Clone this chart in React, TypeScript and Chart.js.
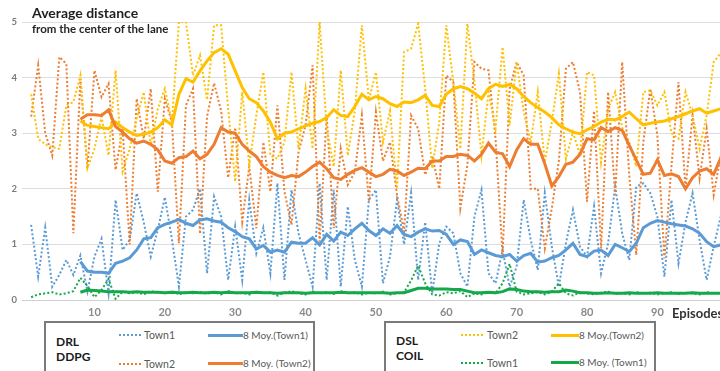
import React, { useEffect, useRef } from "react";
import { Chart, registerables } from "chart.js";

Chart.register(...registerables);

// ---------- DATA ----------
const episodes: number[] = Array.from({ length: 100 }, (_, i) => i + 1);
const maFirstEpisode = 8;
const xTickLabels = [10, 20, 30, 40, 50, 60, 70, 80, 90];
const yTickLabels = [0, 1, 2, 3, 4, 5];

// DRL DDPG - Town1 (dotted blue)
const ddpgTown1 = [
  1.35, 0.42, 1.3, 0.24, 0.45, 0.72, 0.45, 0.8, 0.15, 0.78,
  1.1, 0.12, 1.8, 0.9, 1.08, 1.92, 1.4, 0.78, 1.26, 1.85,
  1.1, 0.24, 1.5, 1.62, 2.0, 0.48, 1.86, 1.5, 0.36, 1.32,
  0.36, 1.8, 0.84, 1.3, 0.48, 2.1, 0.36, 1.98, 1.2, 0.72,
  0.24, 2.1, 0.36, 1.98, 0.24, 1.68, 0.72, 0.24, 1.8, 1.98,
  0.3, 0.78, 1.8, 1.0, 1.92, 0.36, 1.4, 0.12, 1.02, 1.32,
  1.2, 0.48, 0.24, 1.5, 1.98, 0.48, 0.3, 0.9, 0.24, 0.6,
  1.8, 1.08, 0.54, 1.92, 0.96, 0.24, 1.02, 1.62, 0.96, 0.78,
  1.68, 0.48, 1.02, 2.04, 1.2, 0.72, 2.04, 2.1, 1.92, 1.5,
  0.42, 1.8, 0.66, 1.4, 1.92, 1.08, 0.36, 0.96, 1.5, 1.2,
];

// DRL DDPG - Town2 (dotted orange)
const ddpgTown2 = [
  3.3, 4.22, 3.0, 2.6, 4.37, 4.25, 1.2, 3.98, 2.37, 4.13,
  3.65, 3.89, 2.34, 3.08, 1.0, 3.62, 2.9, 3.8, 1.95, 3.62,
  3.2, 1.02, 3.5, 3.8, 1.19, 3.3, 3.9, 3.4, 2.2, 3.1,
  1.41, 2.4, 1.29, 2.84, 1.95, 3.5, 1.95, 1.35, 2.66, 3.14,
  4.22, 1.05, 3.32, 1.29, 2.72, 2.07, 2.3, 3.32, 1.77, 3.38,
  2.5, 2.84, 1.89, 1.23, 3.32, 3.08, 2.25, 2.6, 2.0, 4.04,
  3.92, 1.65, 2.43, 4.28, 4.16, 4.13, 2.9, 0.81, 3.8, 4.28,
  4.04, 2.0, 2.0, 0.93, 1.65, 2.5, 4.16, 4.28, 3.74, 1.77,
  3.4, 0.93, 3.74, 1.89, 4.28, 2.25, 0.81, 2.84, 3.8, 2.96,
  0.75, 2.4, 3.92, 2.0, 3.32, 2.19, 3.08, 1.89, 2.6, 2.4,
];

// DSL COIL - Town2 (dotted yellow)
const coilTown2 = [
  3.7, 2.9, 2.8, 2.75, 2.72, 3.5, 3.56, 4.04, 2.37, 2.72,
  3.3, 2.6, 4.13, 2.31, 2.72, 3.26, 3.74, 2.78, 3.44, 3.8,
  3.2, 5.0, 5.0, 4.04, 4.4, 3.6, 4.94, 4.94, 3.44, 2.13,
  3.74, 2.43, 3.32, 4.1, 2.6, 2.54, 2.84, 4.1, 2.72, 3.8,
  2.72, 5.0, 3.1, 2.4, 4.13, 2.6, 3.4, 4.94, 3.6, 4.1,
  2.84, 3.4, 2.0, 4.46, 4.52, 4.97, 3.8, 2.37, 3.2, 4.94,
  3.92, 2.72, 4.97, 3.92, 2.6, 3.74, 3.08, 4.55, 3.14, 4.28,
  3.38, 2.84, 3.74, 2.48, 3.2, 4.07, 2.54, 3.02, 2.6, 4.1,
  4.04, 2.48, 3.44, 3.74, 3.1, 2.84, 2.4, 3.74, 3.77, 3.5,
  3.74, 3.0, 2.9, 3.74, 3.32, 2.72, 3.32, 4.28, 4.44, 4.0,
];

// DSL COIL - Town1 (dotted green)
const coilTown1 = [
  0.05, 0.1, 0.12, 0.14, 0.1, 0.12, 0.16, 0.4, 0.25, 0.05,
  0.18, 0.38, 0.02, 0.15, 0.12, 0.14, 0.1, 0.16, 0.13, 0.12,
  0.16, 0.1, 0.14, 0.12, 0.15, 0.11, 0.14, 0.1, 0.16, 0.12,
  0.13, 0.1, 0.15, 0.12, 0.14, 0.08, 0.13, 0.16, 0.12, 0.1,
  0.15, 0.12, 0.14, 0.11, 0.16, 0.12, 0.14, 0.1, 0.13, 0.12,
  0.15, 0.1, 0.12, 0.14, 0.35, 0.62, 0.3, 0.1, 0.08, 0.14,
  0.12, 0.16, 0.05, 0.12, 0.1, 0.14, 0.12, 0.3, 0.65, 0.15,
  0.1, 0.12, 0.14, 0.1, 0.15, 0.3, 0.12, 0.08, 0.14, 0.12,
  0.1, 0.13, 0.15, 0.11, 0.12, 0.1, 0.14, 0.12, 0.13, 0.1,
  0.12, 0.14, 0.11, 0.13, 0.12, 0.1, 0.14, 0.12, 0.13, 0.12,
];

// 8-period moving averages (episodes 8..99)
const maDdpgTown1 = [
  0.69, 0.52, 0.5, 0.5, 0.48, 0.66, 0.7, 0.76, 0.9, 1.1,
  1.12, 1.3, 1.36, 1.4, 1.45, 1.38, 1.34, 1.44, 1.46, 1.42,
  1.4, 1.3, 1.23, 1.14, 1.1, 0.92, 0.98, 0.86, 0.9, 0.86,
  1.04, 1.02, 1.02, 1.12, 0.99, 1.18, 1.06, 1.22, 1.16, 1.28,
  1.38, 1.25, 1.16, 1.28, 1.2, 1.34, 1.18, 1.14, 1.22, 1.28,
  1.24, 1.25, 1.18, 1.0, 1.08, 1.05, 0.82, 0.9, 0.85, 0.8,
  0.78, 0.82, 0.7, 0.8, 0.84, 0.68, 0.7, 0.76, 0.8, 0.9,
  1.02, 0.82, 0.78, 0.88, 0.9, 0.8, 1.0, 0.94, 0.87, 1.02,
  1.3, 1.38, 1.43, 1.4, 1.37, 1.35, 1.33, 1.28, 1.2, 1.05,
  0.96, 0.99,
];
const maDdpgTown2 = [
  3.25, 3.33, 3.33, 3.32, 3.42, 3.12, 3.02, 2.9, 2.82, 2.86,
  2.8, 2.7, 2.5, 2.46, 2.56, 2.58, 2.68, 2.54, 2.62, 2.8,
  3.1, 3.02, 3.0, 2.8, 2.68, 2.58, 2.4, 2.3, 2.24, 2.2,
  2.24, 2.22, 2.3, 2.4, 2.48, 2.36, 2.2, 2.17, 2.26, 2.33,
  2.38, 2.3, 2.22, 2.26, 2.35, 2.32, 2.24, 2.3, 2.37, 2.36,
  2.5, 2.5, 2.58, 2.58, 2.62, 2.6, 2.5, 2.62, 2.82, 2.66,
  2.63, 2.4, 2.7, 2.9, 2.8, 2.8, 2.45, 2.05, 2.22, 2.44,
  2.48, 2.62, 2.9, 2.88, 3.1, 3.03, 3.1, 3.05, 2.78, 2.52,
  2.26, 2.28, 2.52, 2.24, 2.27, 2.22, 2.0, 2.2, 2.32, 2.36,
  2.26, 2.55,
];
const maCoilTown2 = [
  3.22, 3.14, 3.12, 3.1, 3.08, 3.2, 3.1, 3.02, 2.96, 2.98,
  3.02, 3.1, 3.24, 3.15, 3.7, 3.98, 3.92, 4.12, 4.3, 4.45,
  4.52, 4.42, 4.12, 3.82, 3.62, 3.55, 3.4, 3.2, 2.9, 3.0,
  3.02, 3.08, 3.13, 3.18, 3.21, 3.28, 3.42, 3.32, 3.3, 3.48,
  3.7, 3.6, 3.66, 3.62, 3.53, 3.48, 3.56, 3.55, 3.6, 3.68,
  3.5, 3.48, 3.7, 3.8, 3.84, 3.8, 3.72, 3.62, 3.8, 3.88,
  3.84, 3.88, 3.8, 3.66, 3.55, 3.46, 3.38, 3.28, 3.15, 3.08,
  3.02, 2.99, 3.06, 3.12, 3.2, 3.25, 3.24, 3.3, 3.38, 3.26,
  3.15, 3.18, 3.2, 3.22, 3.26, 3.3, 3.35, 3.4, 3.44, 3.36,
  3.4, 3.44,
];
const maCoilTown1 = [
  0.14, 0.18, 0.17, 0.16, 0.15, 0.15, 0.15, 0.14, 0.15, 0.14,
  0.14, 0.14, 0.13, 0.14, 0.13, 0.13, 0.14, 0.13, 0.13, 0.14,
  0.13, 0.14, 0.13, 0.13, 0.13, 0.14, 0.13, 0.13, 0.12, 0.13,
  0.13, 0.13, 0.12, 0.13, 0.13, 0.13, 0.13, 0.14, 0.13, 0.13,
  0.13, 0.13, 0.13, 0.13, 0.12, 0.13, 0.13, 0.17, 0.21, 0.21,
  0.2, 0.2, 0.2, 0.19, 0.19, 0.16, 0.13, 0.13, 0.14, 0.13,
  0.15, 0.2, 0.19, 0.16, 0.15, 0.15, 0.14, 0.15, 0.15, 0.18,
  0.16, 0.13, 0.13, 0.12, 0.12, 0.13, 0.12, 0.12, 0.13, 0.12,
  0.12, 0.12, 0.13, 0.12, 0.12, 0.12, 0.12, 0.13, 0.12, 0.12,
  0.12, 0.12,
];

// ---------- STYLE ----------
const BLUE = "#5B9BD5";
const ORANGE = "#ED7D31";
const YELLOW = "#FFC000";
const GREEN = "#13A84A";
const FONT = "Lato, 'Open Sans', sans-serif";

const toPoints = (vals: number[], first: number) =>
  vals.map((v, i) => ({ x: first + i, y: v }));

const dotted = (label: string, vals: number[], color: string) => ({
  label,
  data: toPoints(vals, episodes[0]),
  borderColor: color,
  borderWidth: 2,
  borderDash: [2, 2.2],
  pointRadius: 0,
  tension: 0,
  fill: false,
});
const solid = (label: string, vals: number[], color: string) => ({
  label,
  data: toPoints(vals, maFirstEpisode),
  borderColor: color,
  borderWidth: 3,
  pointRadius: 0,
  tension: 0,
  fill: false,
});

function Txt(props: {
  x: number;
  cy: number;
  size?: number;
  bold?: boolean;
  color?: string;
  children: React.ReactNode;
}) {
  const { x, cy, size = 10, bold = false, color = "#595959", children } = props;
  return (
    <span
      style={{
        position: "absolute",
        left: x,
        top: cy - 8,
        lineHeight: "16px",
        fontSize: size,
        fontWeight: bold ? 700 : 400,
        color,
        whiteSpace: "nowrap",
        fontFamily: FONT,
        zIndex: 2,
      }}
    >
      {children}
    </span>
  );
}

function DotSample(props: { x: number; cy: number; color: string; w?: number }) {
  return (
    <div
      style={{
        position: "absolute",
        left: props.x,
        top: props.cy - 1,
        width: props.w ?? 22,
        height: 0,
        borderTop: `2px dotted ${props.color}`,
      }}
    />
  );
}
function LineSample(props: { x: number; cy: number; color: string; w: number }) {
  return (
    <div
      style={{
        position: "absolute",
        left: props.x,
        top: props.cy - 1.5,
        width: props.w,
        height: 0,
        borderTop: `3px solid ${props.color}`,
      }}
    />
  );
}

export default function App() {
  const ref = useRef<HTMLCanvasElement | null>(null);

  useEffect(() => {
    if (!ref.current) return;
    const chart = new Chart(ref.current, {
      type: "line",
      data: {
        datasets: [
          solid("8 Moy.(Town1) DDPG", maDdpgTown1, BLUE),
          solid("8 Moy.(Town2) DDPG", maDdpgTown2, ORANGE),
          solid("8 Moy.(Town2) COIL", maCoilTown2, YELLOW),
          solid("8 Moy.(Town1) COIL", maCoilTown1, GREEN),
          dotted("Town1 COIL", coilTown1, GREEN),
          dotted("Town2 COIL", coilTown2, YELLOW),
          dotted("Town2 DDPG", ddpgTown2, ORANGE),
          dotted("Town1 DDPG", ddpgTown1, BLUE),
        ] as any,
      },
      options: {
        animation: false,
        responsive: false,
        maintainAspectRatio: false,
        layout: { padding: { top: 22, left: 0, right: 0, bottom: 0 } },
        plugins: {
          legend: { display: false },
          tooltip: { enabled: false },
        },
        scales: {
          x: {
            type: "linear",
            min: -0.3,
            max: 98.9,
            grid: { display: false, drawTicks: false },
            border: { display: true, color: "#d0d0d0", width: 1 },
            ticks: {
              padding: 6,
              color: "#8a8a8a",
              font: { family: FONT, size: 11, weight: "bold" },
            },
            afterBuildTicks: (s: any) => {
              s.ticks = xTickLabels.map((v) => ({ value: v }));
            },
            afterFit: (s: any) => {
              s.height = 20;
            },
          },
          y: {
            min: 0,
            max: 5,
            grid: { color: "#dedede", drawTicks: false },
            border: { display: false },
            ticks: {
              padding: 5,
              color: "#7a7a7a",
              font: { family: FONT, size: 9.5, weight: "bold" },
            },
            afterBuildTicks: (s: any) => {
              s.ticks = yTickLabels.map((v) => ({ value: v }));
            },
            afterFit: (s: any) => {
              s.width = 22;
            },
          },
        } as any,
      },
    });
    return () => chart.destroy();
  }, []);

  return (
    <div
      style={{
        position: "absolute",
        left: 0,
        top: 0,
        width: 720,
        height: 371,
        overflow: "hidden",
        background: "#ffffff",
        fontFamily: FONT,
      }}
    >
      <canvas
        ref={ref}
        width={720}
        height={320}
        style={{ position: "absolute", left: 0, top: 0, width: 720, height: 320 }}
      />
      <Txt x={32} cy={13} size={14} bold color="#1f1f1f">
        Average distance
      </Txt>
      <Txt x={32} cy={29} size={11.5} bold color="#262626">
        from the center of the lane
      </Txt>
      <Txt x={672} cy={313} size={13} bold color="#333333">
        Episodes
      </Txt>

      {/* Legend box 1: DRL DDPG */}
      <div
        style={{
          position: "absolute",
          left: 44,
          top: 321,
          width: 271,
          height: 70,
          border: "2px solid #7a7a7a",
          boxSizing: "border-box",
        }}
      />
      <Txt x={56} cy={342} size={12} bold color="#1a1a1a">DRL</Txt>
      <Txt x={56} cy={357} size={12} bold color="#1a1a1a">DDPG</Txt>
      <DotSample x={119} cy={335} color={BLUE} />
      <Txt x={144} cy={335} size={10.5}>Town1</Txt>
      <LineSample x={208} cy={335} color={BLUE} w={35} />
      <Txt x={243} cy={335}>8 Moy.(Town1)</Txt>
      <DotSample x={119} cy={364} color={ORANGE} />
      <Txt x={144} cy={364} size={10.5}>Town2</Txt>
      <LineSample x={208} cy={363} color={ORANGE} w={35} />
      <Txt x={243} cy={363}>8 Moy. (Town2)</Txt>

      {/* Legend box 2: DSL COIL */}
      <div
        style={{
          position: "absolute",
          left: 384,
          top: 321,
          width: 272,
          height: 70,
          border: "2px solid #7a7a7a",
          boxSizing: "border-box",
        }}
      />
      <Txt x={396} cy={341} size={12} bold color="#1a1a1a">DSL</Txt>
      <Txt x={396} cy={356} size={12} bold color="#1a1a1a">COIL</Txt>
      <DotSample x={461} cy={335} color={YELLOW} />
      <Txt x={487} cy={335} size={10.5}>Town2</Txt>
      <LineSample x={551} cy={335} color={YELLOW} w={28} />
      <Txt x={579} cy={335}>8 Moy.(Town2)</Txt>
      <DotSample x={461} cy={363} color={GREEN} />
      <Txt x={487} cy={363} size={10.5}>Town1</Txt>
      <LineSample x={551} cy={362} color={GREEN} w={28} />
      <Txt x={579} cy={362}>8 Moy. (Town1)</Txt>
    </div>
  );
}
